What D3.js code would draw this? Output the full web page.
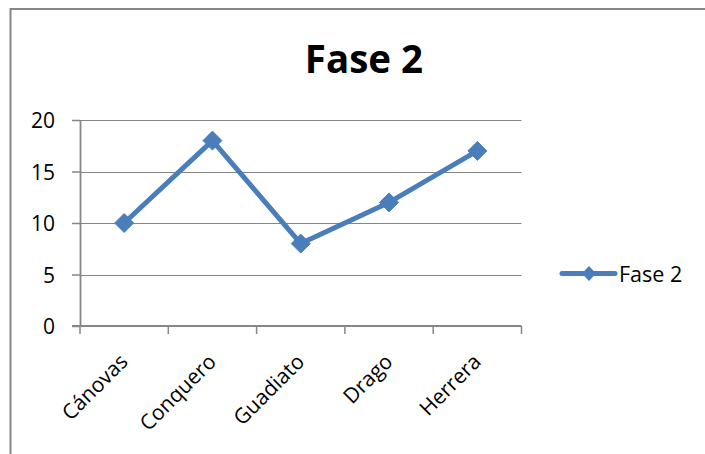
<!DOCTYPE html>
<html><head><meta charset="utf-8">
<script src="https://cdn.jsdelivr.net/npm/d3@7"></script>
<style>body{margin:0;background:#fff}svg{display:block}</style>
</head><body>
<svg id="c" width="705" height="454"></svg>
<script>
const categories = ["Cánovas", "Conquero", "Guadiato", "Drago", "Herrera"];
const values = [10, 18, 8, 12, 17];
const yTicks = [0, 5, 10, 15, 20];
const seriesName = "Fase 2";
const title = "Fase 2";

const svg = d3.select("#c");
const font = "'Open Sans', Lato, sans-serif";
const gray = "#868686";
const blue = "#4a7ebb";

svg.append("rect").attr("x",0).attr("y",0).attr("width",705).attr("height",454).attr("fill","#fff");
// chart border (left and top visible)
svg.append("path").attr("d","M10.5,454 L10.5,9 L705,9").attr("fill","none").attr("stroke",gray).attr("stroke-width",2);

const plot = {l:80, r:521.5, t:120, b:326};
const x = d3.scaleBand().domain(categories).range([plot.l, plot.r]).padding(0);
const y = d3.scaleLinear().domain([0,20]).range([plot.b, plot.t]);

// gridlines
svg.append("g").selectAll("line").data(yTicks.filter(d=>d>0)).join("line")
  .attr("x1",plot.l).attr("x2",plot.r)
  .attr("y1",d=>Math.round(y(d))+0.5).attr("y2",d=>Math.round(y(d))+0.5)
  .attr("stroke",gray).attr("stroke-width",1.2);

// y axis
const yAxis = svg.append("g").attr("transform",`translate(${plot.l},0)`)
  .call(d3.axisLeft(y).tickValues(yTicks).tickSize(8).tickSizeOuter(0).tickPadding(17));
yAxis.select(".domain").attr("stroke",gray).attr("stroke-width",1.8);
yAxis.selectAll(".tick line").attr("stroke",gray).attr("stroke-width",1.5);
yAxis.selectAll(".tick text").attr("font-family",font).attr("font-size",21).attr("fill","#000").attr("dy","0.36em");

// x axis
const xAxis = svg.append("g").attr("transform",`translate(0,${plot.b})`)
  .call(d3.axisBottom(x).tickSize(0).tickSizeOuter(0));
xAxis.select(".domain").attr("stroke",gray).attr("stroke-width",1.8).attr("d",`M${plot.l-8},0H${plot.r}`);
xAxis.selectAll(".tick text").remove();
// category boundary ticks
const bounds = categories.map(c=>x(c)).concat([plot.r]);
xAxis.selectAll("line.bt").data(bounds).join("line").attr("class","bt")
  .attr("x1",d=>d).attr("x2",d=>d).attr("y1",0).attr("y2",8)
  .attr("stroke",gray).attr("stroke-width",1.5);
// rotated labels
svg.append("g").selectAll("text").data(categories).join("text")
  .attr("transform",d=>`translate(${x(d)+x.bandwidth()/2+5},363) rotate(-45)`)
  .attr("text-anchor","end").attr("font-family",font).attr("font-size",21).attr("fill","#000")
  .text(d=>d);

// line
const cx = (d,i)=>x(categories[i])+x.bandwidth()/2;
svg.append("path").datum(values)
  .attr("d", d3.line().x((d,i)=>cx(d,i)).y(d=>y(d)))
  .attr("fill","none").attr("stroke",blue).attr("stroke-width",5).attr("stroke-linejoin","round").attr("stroke-linecap","round");
const diamond = "M0,-9.5L9.5,0L0,9.5L-9.5,0Z";
svg.append("g").selectAll("path").data(values).join("path")
  .attr("transform",(d,i)=>`translate(${cx(d,i)},${y(d)})`)
  .attr("d",diamond).attr("fill",blue).attr("stroke",blue).attr("stroke-width",1);

// title
svg.append("text").attr("x",364).attr("y",73).attr("text-anchor","middle")
  .attr("font-family",font).attr("font-weight","bold").attr("font-size",38.5).attr("fill","#000").text(title);

// legend
const lg = svg.append("g");
lg.append("line").attr("x1",562).attr("x2",615).attr("y1",273.5).attr("y2",273.5)
  .attr("stroke",blue).attr("stroke-width",5).attr("stroke-linecap","round");
lg.append("path").attr("transform","translate(589,273.5)").attr("d","M0,-7.5L7,0L0,7.5L-7,0Z").attr("fill",blue);
lg.append("text").attr("x",619).attr("y",282).attr("font-family",font).attr("font-size",21.5).attr("fill","#000").text(seriesName);
</script>
</body></html>
